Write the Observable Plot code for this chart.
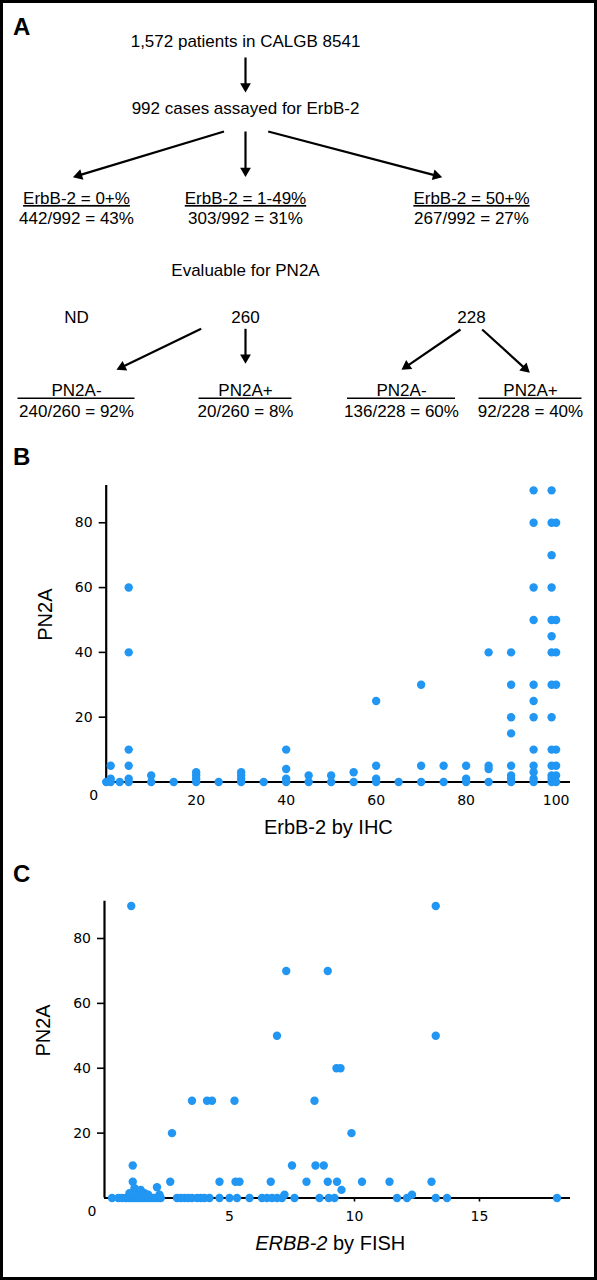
<!DOCTYPE html>
<html>
<head>
<meta charset="utf-8">
<script src="https://cdn.jsdelivr.net/npm/d3@7"></script>
<script src="https://cdn.jsdelivr.net/npm/@observablehq/plot@0.6"></script>
<style>
  html, body { margin: 0; padding: 0; background: #fff; }
  #page { position: relative; width: 597px; height: 1280px; overflow: hidden; background: #fff;
          font-family: "Liberation Sans", Arial, sans-serif; color: #000; }
  .panel { position: absolute; left: 0; width: 597px; }
  .letter { position: absolute; font-weight: bold; font-size: 24px; line-height: 24px; }
  #frame { position: absolute; left: 0; top: 0; width: 597px; height: 1280px; box-sizing: border-box;
           border: 3px solid #000; pointer-events: none; }
</style>
</head>
<body>
<div id="page">
  <div class="panel" id="pA" style="top:0;height:440px"></div>
  <div class="panel" id="pB" style="top:440px;height:420px"></div>
  <div class="panel" id="pC" style="top:860px;height:420px"></div>
  <div class="letter" style="left:13px;top:15px">A</div>
  <div class="letter" style="left:13px;top:445px">B</div>
  <div class="letter" style="left:13px;top:862px">C</div>
  <div id="frame"></div>
</div>
<script>
// ---------------- DATA ----------------
// Panel A: flow diagram texts
const flowSteps = ["1,572 patients in CALGB 8541", "992 cases assayed for ErbB-2"];
const erbGroups = ["ErbB-2 = 0+%", "ErbB-2 = 1-49%", "ErbB-2 = 50+%"];
const erbFractions = ["442/992 = 43%", "303/992 = 31%", "267/992 = 27%"];
const evalTitle = ["Evaluable for PN2A"];
const evalCounts = ["ND", "260", "228"];
const pn2aGroups = ["PN2A-", "PN2A+", "PN2A-", "PN2A+"];
const pn2aFractions = ["240/260 = 92%", "20/260 = 8%", "136/228 = 60%", "92/228 = 40%"];

// Panel B: ErbB-2 by IHC (x) vs PN2A (y), grouped by IHC level
const ihcLevels = [0, 1, 3, 5, 10, 15, 20, 25, 30, 35, 40, 45, 50, 55, 60, 65, 70, 75, 80, 85, 90, 95, 99, 100];
const ihcPN2AByLevel = [
  [0],
  [5, 1, 0],
  [0],
  [60, 40, 10, 5, 1, 0],
  [2, 0],
  [0],
  [3, 2, 1, 0],
  [0],
  [3, 2, 1, 0],
  [0],
  [10, 4, 1, 0],
  [2, 0],
  [2, 0],
  [3, 0],
  [25, 5, 1, 0],
  [0],
  [30, 5, 0],
  [5, 0],
  [5, 1, 0],
  [40, 5, 4, 0],
  [40, 30, 20, 15, 5, 2, 1, 0],
  [90, 80, 60, 50, 30, 25, 20, 10, 5, 3, 1, 0],
  [90, 80, 70, 60, 50, 45, 40, 30, 20, 10, 5, 2, 1, 0],
  [80, 50, 40, 30, 10, 5, 2, 0]
];
const ihcTicks = [20, 40, 60, 80, 100];

// Panel C: ERBB-2 by FISH (x) vs PN2A (y), grouped by PN2A level
const fishLevels = [0, 5, 10, 20, 30, 40, 50, 70, 90];
const fishErbB2ByLevel = [
  [0.3, 0.55, 0.7, 0.85, 0.95, 1.05, 1.15, 1.25, 1.35, 1.45, 1.55, 1.65, 1.75, 1.85, 1.95, 2.05, 2.15, 2.25,
   2.9, 3.05, 3.2, 3.35, 3.5, 3.7, 3.85, 4.0, 4.2, 4.6, 5.0, 5.3, 5.8, 6.3, 6.5, 6.7, 6.9, 7.1, 7.6,
   8.6, 8.97, 9.2, 11.7, 12.1, 13.25, 13.7, 18.1],
  [1.13, 2.63, 4.6, 5.24, 5.4, 6.65, 8.08, 8.93, 9.3, 10.3, 11.4, 13.08],
  [1.13, 7.5, 8.44, 8.77],
  [2.7, 9.88],
  [3.5, 4.1, 4.3, 5.2, 8.4],
  [9.28, 9.44],
  [6.9, 13.25],
  [7.27, 8.93],
  [1.07, 13.25]
];
// a few low, non-zero PN2A values near the axis
const fishLowErbB2 = [1.0, 1.2, 1.3, 1.45, 1.6, 1.75, 2.1, 2.2, 7.2, 9.48, 12.3];
const fishLowPN2A  = [1.5, 3, 2, 2.5, 1.5, 1, 3.3, 1, 1, 2.5, 1];
const fishTicks = [5, 10, 15];
const pn2aTicks = [20, 40, 60, 80];

// ---------------- PANEL A (diagram) ----------------
const lay = {
  col: [76, 245, 471], sub: [76, 245, 401, 530], subHalf: [58.5, 46.5, 54, 51.5],
  y: {steps: [41, 108], group: 198, frac: 218, evalT: 270, counts: 316.7, pn: 390.5, sep: 397.7, pnFrac: 411}
};
const arrowLayout = [
  [245, 57, 245, 92],
  [223.5, 131, 72.4, 176.7], [245, 131, 245, 176.5], [267.7, 131, 441.7, 176.7],
  [200.7, 328.3, 116, 369.3], [245, 328.3, 245, 363.3],
  [460, 329, 401, 369.3], [481.7, 329, 529.3, 372.3]
];
const headR = 4;
const headOff = Math.sqrt(headR * headR * Math.PI / (3 * Math.sqrt(3))) * 2; // centroid-to-apex distance
const shafts = [], heads = [];
for (const [x1, y1, x2, y2] of arrowLayout) {
  const dx = x2 - x1, dy = y2 - y1, len = Math.hypot(dx, dy), ux = dx / len, uy = dy / len;
  const cx = x2 - ux * headOff, cy = y2 - uy * headOff;
  shafts.push({x1, y1, x2: cx, y2: cy});
  heads.push({x: cx, y: cy, angle: Math.atan2(dx, -dy) * 180 / Math.PI});
}
const fontA = "Liberation Sans, Arial, sans-serif";
const txt = (data, opts) => Plot.text(data, {fontSize: 17, fontFamily: fontA, fill: "#000", ...opts});

const chartA = Plot.plot({
  width: 597, height: 440, margin: 0,
  x: {type: "identity", axis: null}, y: {type: "identity", axis: null},
  style: {background: "transparent", overflow: "visible"},
  marks: [
    txt(flowSteps, {x: lay.col[1], y: (d, i) => lay.y.steps[i], text: d => d}),
    txt(erbGroups, {x: (d, i) => lay.col[i], y: lay.y.group, text: d => d}),
    txt(erbFractions, {x: (d, i) => lay.col[i], y: lay.y.frac, text: d => d}),
    txt(evalTitle, {x: lay.col[1], y: lay.y.evalT, text: d => d}),
    txt(evalCounts, {x: (d, i) => lay.col[i], y: lay.y.counts, text: d => d}),
    txt(pn2aGroups, {x: (d, i) => lay.sub[i], y: lay.y.pn, text: d => d}),
    Plot.ruleY(pn2aGroups, {y: lay.y.sep, x1: (d, i) => lay.sub[i] - lay.subHalf[i], x2: (d, i) => lay.sub[i] + lay.subHalf[i], stroke: "#000", strokeWidth: 1.4}),
    txt(pn2aFractions, {x: (d, i) => lay.sub[i], y: lay.y.pnFrac, text: d => d}),
    Plot.link(shafts, {x1: "x1", y1: "y1", x2: "x2", y2: "y2", stroke: "#000", strokeWidth: 2.2}),
    Plot.dot(heads, {x: "x", y: "y", rotate: "angle", symbol: "triangle", r: headR, fill: "#000", stroke: "none"})
  ]
});
// underline the ErbB-2 group headers
d3.select(chartA).selectAll("text")
  .filter(function () { return erbGroups.includes(this.textContent); })
  .style("text-decoration", "underline");
document.getElementById("pA").append(chartA);

// ---------------- PANELS B and C (scatter) ----------------
function scatter({points, xDomain, xTicks, marginLeft, marginTop, marginBottom, xLabelParts}) {
  const labelMarks = xLabelParts.length === 1
    ? [Plot.text(xLabelParts, {frameAnchor: "bottom", dx: -10, dy: 52, fontSize: 20, fontFamily: fontA, text: d => d})]
    : [Plot.text([xLabelParts[0]], {frameAnchor: "bottom", dx: -10, dy: 52, fontSize: 20, fontFamily: fontA, fontStyle: "italic", textAnchor: "end", text: d => d}),
       Plot.text([xLabelParts[1]], {frameAnchor: "bottom", dx: -4.5, dy: 52, fontSize: 20, fontFamily: fontA, textAnchor: "start", text: d => d})];
  return Plot.plot({
    width: 597, height: 420,
    marginLeft, marginRight: 27, marginTop, marginBottom,
    style: {background: "transparent", overflow: "visible", fontFamily: "DejaVu Sans, sans-serif", fontSize: "14px", color: "#000"},
    x: {domain: xDomain, label: null},
    y: {domain: [0, 91.5], label: null},
    marks: [
      Plot.axisX({ticks: xTicks, tickSize: 4, tickPadding: 9, strokeWidth: 1.6, fontSize: 14, label: null}),
      Plot.axisY({ticks: pn2aTicks, tickSize: 7, tickPadding: 6.5, strokeWidth: 1.6, fontSize: 14, label: null}),
      Plot.text(["0"], {frameAnchor: "bottom-left", dx: -17, dy: 18, fontSize: 14, text: d => d}),
      Plot.ruleX([0], {stroke: "#000", strokeWidth: 2.2}),
      Plot.ruleY([0], {stroke: "#000", strokeWidth: 2.2}),
      Plot.dot(points, {x: "x", y: "y", r: 4.2, fill: "#2196f3", stroke: "none"}),
      ...labelMarks,
      Plot.text(["PN2A"], {frameAnchor: "left", rotate: -90, dx: -60.5, dy: 7, fontSize: 20, fontFamily: fontA, text: d => d})
    ]
  });
}

const ihcPoints = ihcLevels.flatMap((lv, i) => ihcPN2AByLevel[i].map(v => ({x: lv, y: v})));
const fishPoints = fishLevels.flatMap((lv, i) => fishErbB2ByLevel[i].map(v => ({x: v, y: lv})))
  .concat(fishLowErbB2.map((v, i) => ({x: v, y: fishLowPN2A[i]})));

document.getElementById("pB").append(scatter({
  points: ihcPoints, xDomain: [0, 103.2], xTicks: ihcTicks,
  marginLeft: 105.7, marginTop: 45, marginBottom: 78.5,
  xLabelParts: ["ErbB-2 by IHC"]
}));
document.getElementById("pC").append(scatter({
  points: fishPoints, xDomain: [0, 18.64], xTicks: fishTicks,
  marginLeft: 104, marginTop: 40.7, marginBottom: 82.5,
  xLabelParts: ["ERBB-2", "by FISH"]
}));
</script>
</body>
</html>
